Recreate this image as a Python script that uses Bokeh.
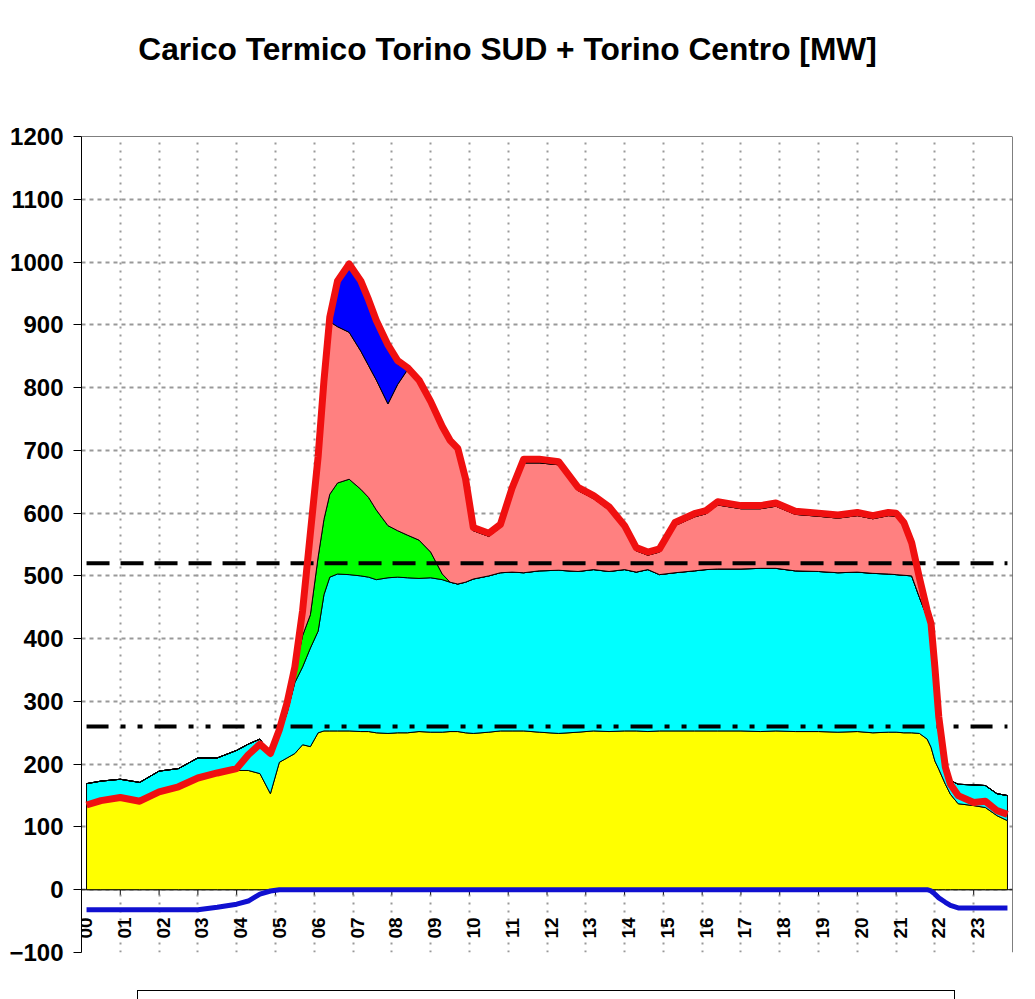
import math
from bokeh.plotting import figure
from bokeh.models import FixedTicker, Span, Div, Range1d
from bokeh.layouts import column
from bokeh.embed import file_html
from bokeh.resources import INLINE
from bokeh.core.properties import value

title_text = "Carico Termico Torino SUD + Torino Centro [MW]"
hour_labels = ["00", "01", "02", "03", "04", "05", "06", "07", "08", "09", "10", "11",
               "12", "13", "14", "15", "16", "17", "18", "19", "20", "21", "22", "23"]
y_ticks = [-100, 0, 100, 200, 300, 400, 500, 600, 700, 800, 900, 1000, 1100, 1200]
ref_high = 520
ref_low = 260

hours = [0.13, 0.5, 1.0, 1.5, 2.0, 2.5, 3.0, 3.5, 4.0, 4.3, 4.6, 4.87,
         5.1, 5.3, 5.5, 5.7, 5.9, 6.1, 6.25,
         6.4, 6.6, 6.9, 7.2, 7.4, 7.6, 7.9, 8.15, 8.4, 8.7, 9.0, 9.3,
         9.5, 9.7, 9.9, 10.1, 10.5, 10.8, 11.1, 11.4, 11.8, 12.3, 12.8, 13.2,
         13.6, 14.0, 14.3, 14.6, 14.9, 15.3, 15.8, 16.1, 16.4, 17.0, 17.5, 17.9,
         18.4, 19.0, 19.5, 20.0, 20.4, 20.8, 21.0, 21.2, 21.4, 21.6, 21.8, 21.9,
         22.0, 22.1, 22.27, 22.4, 22.6, 23.0, 23.3, 23.6, 23.87]

# cumulative tops of the stacked layers [MW]
yellow_top = [137, 142, 146, 141, 155, 163, 177, 183, 190, 190, 185, 153,
              203, 210, 217, 231, 228, 250, 253,
              253, 253, 253, 252, 252, 250, 249, 250, 250, 252, 251, 251,
              252, 252, 250, 249, 251, 253, 253, 253, 251, 249, 251, 253,
              252, 253, 253, 252, 253, 253, 253, 253, 253, 253, 252, 253,
              252, 252, 251, 252, 250, 251, 251, 250, 250, 249, 240, 227,
              205, 192, 168, 152, 137, 134, 131, 118, 110]
cyan_top = [169, 173, 176, 171, 189, 193, 210, 210, 222, 232, 240, 216,
            245, 282, 330, 355, 385, 412, 470,
            498, 503, 502, 500, 498, 494, 497, 498, 497, 496, 497, 494,
            490, 487, 490, 495, 500, 505, 506, 505, 508, 509, 507, 510,
            507, 510, 506, 510, 502, 505, 508, 510, 511, 511, 512, 512,
            508, 507, 505, 506, 504, 503, 502, 501, 500, 466, 434, 420,
            350, 272, 192, 174, 168, 167, 166, 153, 150]
green_top = [169, 173, 176, 171, 189, 193, 210, 210, 222, 232, 240, 216,
             248, 292, 348, 405, 438, 530, 590,
             630, 648, 654, 638, 625, 605, 580, 572, 565, 557, 538, 503,
             490, 487, 490, 495, 500, 505, 506, 505, 508, 509, 507, 510,
             507, 510, 506, 510, 502, 505, 508, 510, 511, 511, 512, 512,
             508, 507, 505, 506, 504, 503, 502, 501, 500, 466, 434, 420,
             350, 272, 192, 174, 168, 167, 166, 153, 150]
salmon_top = [169, 173, 176, 171, 189, 193, 210, 210, 222, 232, 240, 216,
              252, 295, 352, 442, 565, 686, 807,
              905, 897, 888, 858, 835, 812, 774, 805, 828, 808, 774, 734,
              712, 699, 651, 572, 563, 577, 635, 680, 680, 677, 636, 623,
              605, 575, 540, 533, 538, 580, 594, 599, 613, 607, 607, 611,
              598, 595, 592, 596, 591, 596, 595, 580, 548, 492, 440, 420,
              350, 272, 192, 174, 168, 167, 166, 153, 150]
blue_top = [169, 173, 176, 171, 189, 193, 210, 210, 222, 232, 240, 216,
            252, 295, 352, 442, 565, 686, 807,
            908, 965, 990, 963, 934, 902, 863, 837, 828, 808, 774, 734,
            712, 699, 651, 572, 563, 577, 635, 680, 680, 677, 636, 623,
            605, 575, 540, 533, 538, 580, 594, 599, 613, 607, 607, 611,
            598, 595, 592, 596, 591, 596, 595, 580, 548, 492, 440, 420,
            350, 272, 192, 174, 168, 167, 166, 153, 150]
total_load = [135, 142, 147, 141, 156, 164, 178, 186, 193, 215, 232, 217,
              255, 298, 355, 445, 568, 690, 811,
              912, 970, 997, 970, 940, 907, 868, 843, 832, 812, 778, 738,
              716, 703, 655, 577, 568, 582, 640, 686, 686, 682, 641, 628,
              610, 580, 545, 538, 543, 585, 599, 604, 618, 612, 612, 616,
              603, 600, 597, 601, 596, 601, 600, 585, 553, 497, 445, 424,
              354, 275, 195, 168, 150, 139, 141, 126, 120]
negative_line = [-32, -32, -32, -32, -32, -32, -32, -28, -23, -18, -7, -2,
                 0, 0, 0, 0, 0, 0, 0,
                 0, 0, 0, 0, 0, 0, 0, 0, 0, 0, 0, 0,
                 0, 0, 0, 0, 0, 0, 0, 0, 0, 0, 0, 0,
                 0, 0, 0, 0, 0, 0, 0, 0, 0, 0, 0, 0,
                 0, 0, 0, 0, 0, 0, 0, 0, 0, 0, 0, -2,
                 -7, -13, -20, -25, -29, -29, -29, -29, -29]

layers = [
    ([0] * len(hours), yellow_top, "#FFFF00"),
    (yellow_top, cyan_top, "#00FFFF"),
    (cyan_top, green_top, "#00FF00"),
    (green_top, salmon_top, "#FF8080"),
    (salmon_top, blue_top, "#0000FF"),
]

FONT = "Liberation Sans"

title_div = Div(text=title_text, width=1015, height=100, margin=(0, 0, 0, 0),
                styles={"font-family": "'Liberation Sans', Arial, sans-serif",
                        "font-weight": "bold", "font-size": "31.7px",
                        "line-height": "32px", "text-align": "center",
                        "padding-top": "33px", "box-sizing": "border-box",
                        "color": "black", "white-space": "nowrap"})

p = figure(width=1035, height=890, x_range=Range1d(0, 24), y_range=Range1d(-100, 1200),
           output_backend="svg", toolbar_location=None,
           min_border_left=81, min_border_right=23, min_border_top=36, min_border_bottom=38)
p.background_fill_color = "white"
p.border_fill_color = "white"
p.outline_line_color = None

p.xaxis.visible = False
yax = p.yaxis[0]
yax.ticker = FixedTicker(ticks=y_ticks)
yax.major_label_text_font = FONT
yax.major_label_text_font_style = "bold"
yax.major_label_text_font_size = "24px"
yax.major_label_text_color = "black"
yax.major_tick_out = 8
yax.major_tick_in = 0
yax.minor_tick_out = 0
yax.minor_tick_in = 0
yax.major_label_standoff = 10
yax.axis_line_color = "black"
yax.major_tick_line_color = "black"

p.xgrid.ticker = FixedTicker(ticks=list(range(1, 24)))
p.ygrid.ticker = FixedTicker(ticks=y_ticks)
p.xgrid.grid_line_color = "#999999"
p.xgrid.grid_line_width = 2
p.xgrid.grid_line_dash = "2 6"
p.ygrid.grid_line_color = "#999999"
p.ygrid.grid_line_width = 2
p.ygrid.grid_line_dash = "4 4"

# zero line (x axis through 0)
p.add_layout(Span(location=0, dimension="width", line_color="black", line_width=1, level="underlay"))

for lower, upper, color in layers:
    xs = list(hours) + list(reversed(hours))
    ys = list(upper) + list(reversed(lower))
    p.patch(xs, ys, fill_color=color, line_color="black", line_width=1)

# tick marks under the zero line
tick_h = list(range(1, 24))
p.segment(x0=tick_h, y0=[0] * len(tick_h), x1=tick_h, y1=[-8] * len(tick_h),
          line_color="black", line_width=1)

# reference levels
p.line([hours[0], hours[-1]], [ref_high, ref_high], line_color="black", line_width=4,
       line_dash="23 11")
p.line([hours[0], hours[-1]], [ref_low, ref_low], line_color="black", line_width=4,
       line_dash="22 12 5 12 5 12")

p.line(hours, total_load, line_color="#F01010", line_width=7, line_join="round")
p.line(hours, negative_line, line_color="#1010D0", line_width=5, line_join="round")

label_x = list(range(0, 24))
p.text(x=label_x, y=[-61] * 24, text=hour_labels, angle=math.pi / 2,
       text_align="center", text_baseline="middle", x_offset=4,
       text_font=value(FONT), text_font_style="bold", text_font_size="19px",
       text_color="black")

# plot border (top and right)
p.add_layout(Span(location=24, dimension="height", line_color="black", line_width=1))
p.add_layout(Span(location=1200, dimension="width", line_color="black", line_width=1))

legend_box = Div(text="", width=818, height=9, margin=(0, 0, 0, 137),
                 styles={"border-top": "1px solid black", "border-left": "1px solid black",
                         "border-right": "1px solid black", "box-sizing": "border-box"})

layout = column(title_div, p, legend_box, spacing=0)
open("out.html", "w").write(file_html(layout, INLINE))
